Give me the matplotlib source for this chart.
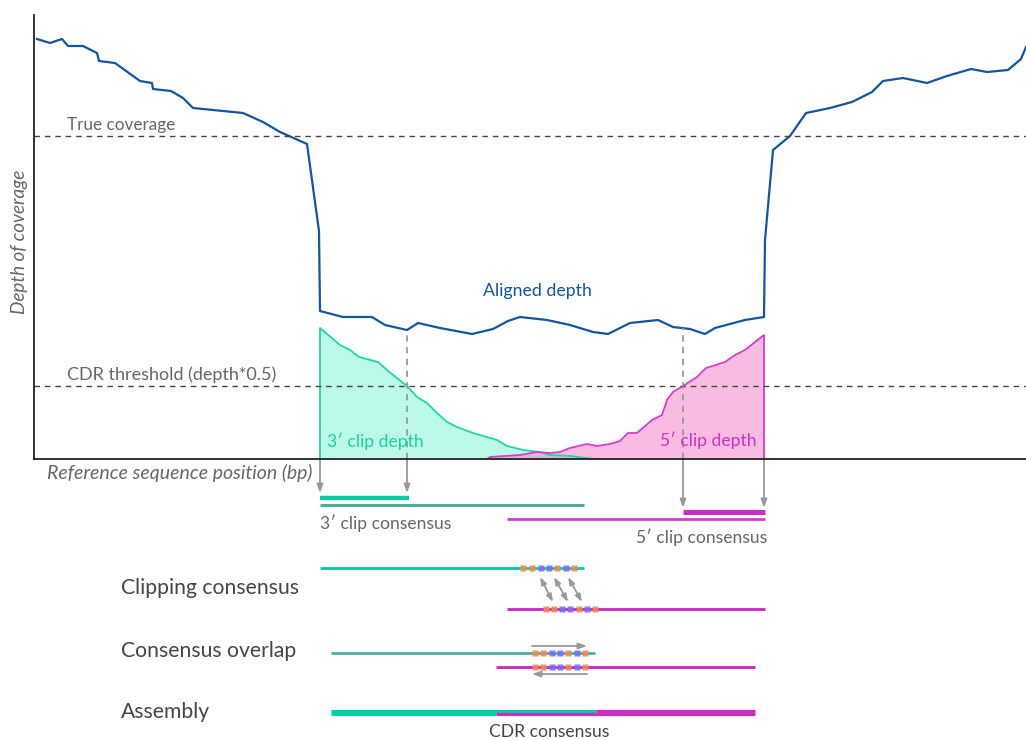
import numpy as np
import matplotlib
matplotlib.use('Agg')
import matplotlib.pyplot as plt

plt.rcParams['font.family'] = ['Lato', 'DejaVu Sans']

# Aligned depth along the reference (bp, depth)
aligned_pos = [2, 15, 27, 33, 48, 62, 64, 80, 105, 117, 118, 136, 148, 158, 208, 228, 245, 272,
               284, 285, 308, 337, 350, 372, 383, 405, 437, 458, 473, 485, 512, 535, 558, 573,
               595, 623, 638, 655, 670, 680, 710, 729, 730, 738, 755, 771, 795, 817, 837, 848,
               868, 892, 912, 936, 952, 973, 986, 991]
aligned_depth = [420, 416, 420, 413, 413, 406, 398, 396, 378, 376, 370, 368, 361, 351, 346, 337, 327, 315,
                 228, 148, 142, 142, 134, 129, 136, 131, 125, 130, 138, 142, 139, 134, 127, 125,
                 136, 139, 132, 130, 125, 131, 139, 142, 219, 309, 323, 346, 351, 357, 367, 378,
                 381, 376, 383, 390, 387, 389, 400, 412]

# 3' soft-clip depth
clip3_pos = [285, 285, 305, 315, 324, 343, 352, 362, 372, 382, 392, 402, 412, 422, 438, 462, 467,
             472, 488, 505, 515, 535, 558]
clip3_depth = [0, 131, 114, 109, 102, 97, 89, 81, 73, 62, 56, 46, 37, 32, 26, 19, 16,
               13, 9, 7, 4, 3, 0]

# 5' soft-clip depth
clip5_pos = [452, 455, 485, 502, 515, 525, 535, 552, 562, 575, 585, 593, 602, 617, 627, 632, 638,
             648, 662, 671, 690, 700, 710, 729, 729]
clip5_depth = [0, 2, 4, 7, 6, 7, 11, 15, 13, 15, 18, 26, 26, 39, 44, 59, 67,
               73, 82, 91, 97, 104, 109, 124, 0]

true_coverage = 323
cdr_threshold = 73
cdr_3_start, cdr_3_end = 285, 372
cdr_5_start, cdr_5_end = 648, 729

# consensus sequences (bp start, bp end)
cons3 = (285, 549)
cons5 = (472, 730)
cons3_ov = (296, 560)
cons5_ov = (461, 720)
assembly_join = 561

# sequence kmers shown on the consensus ends
kmer_colors = ['o', 'o', 'b', 'b', 'o', 'b', 'o']
kmer3_clip = [488, 497, 506, 514, 522, 531, 539]
kmer5_clip = [511, 519, 527, 535, 544, 552, 560]
kmer_overlap = [500, 508, 517, 525, 533, 542, 550]
match_from = [505, 519, 533]
match_to = [518, 533, 547]

TEAL = '#1ed6a8'
TEAL_D = '#4aae9a'
TEAL_B = '#00cda3'
MAG = '#cc2bc4'
BLUE = '#14559b'
GREY = '#999999'
TXT = '#666666'
DARK = '#454545'
sq_col = {'o': '#ef8a55', 'b': '#7b6ff0'}

W, H = 1026, 740
fig = plt.figure(figsize=(W / 100, H / 100), dpi=100)

# ---- coverage plot
ax = fig.add_axes([34 / W, 1 - 459 / H, 992 / W, 444 / H])
ax.set_xlim(-1, 991)
ax.set_ylim(0, 444)
for s in ['top', 'right']:
    ax.spines[s].set_visible(False)
for s in ['left', 'bottom']:
    ax.spines[s].set_linewidth(1.3)
    ax.spines[s].set_color('#222222')
ax.set_xticks([])
ax.set_yticks([])

ax.fill_between(clip3_pos, clip3_depth, color='#7ff5d6', alpha=0.52, lw=0)
ax.fill_between(clip5_pos, clip5_depth, color='#f27fc4', alpha=0.52, lw=0)
ax.plot(clip3_pos, clip3_depth, color=TEAL, lw=1.3)
ax.plot(clip5_pos, clip5_depth, color='#d63ccb', lw=1.3)
ax.plot(aligned_pos, aligned_depth, color=BLUE, lw=1.6)

ax.axhline(true_coverage, color='#444444', lw=1.0, ls=(0, (4, 3.5)))
ax.axhline(cdr_threshold, color='#444444', lw=1.0, ls=(0, (4, 3.5)))
ax.plot([cdr_3_end, cdr_3_end], [0, 129], color=GREY, lw=1.3, ls=(0, (3.5, 3)))
ax.plot([cdr_5_start, cdr_5_start], [0, 131], color=GREY, lw=1.3, ls=(0, (3.5, 3)))

ax.text(32, 334, 'True coverage', color=TXT, fontsize=12.3, va='center')
ax.text(32, 84, 'CDR threshold (depth*0.5)', color=TXT, fontsize=13, va='center')
ax.text(502, 168, 'Aligned depth', color=BLUE, fontsize=12.8, ha='center', va='center')
ax.text(292, 18, '3\u2032 clip depth', color='#1ccf9f', fontsize=12.6, va='center')
ax.text(722, 19, '5\u2032 clip depth', color='#d030c4', fontsize=12.6, ha='right', va='center')

fig.text(20 / W, 1 - 242 / H, 'Depth of coverage', rotation=90, style='italic',
         color=TXT, fontsize=13.6, ha='center', va='center')

# ---- schematic below
bx = fig.add_axes([34 / W, 0, 992 / W, 281 / H], zorder=-1)
bx.set_xlim(-1, 991)
bx.set_ylim(281, 0)
bx.axis('off')

bx.text(12, 14, 'Reference sequence position (bp)', style='italic', color=TXT,
        fontsize=14, va='center')

arrow_kw = dict(arrowstyle='-|>,head_length=0.5,head_width=0.18', color=GREY, lw=1.3,
                shrinkA=0, shrinkB=0)
for xp in [cdr_3_start, cdr_3_end]:
    bx.annotate('', xy=(xp, 34), xytext=(xp, 0), arrowprops=arrow_kw)
for xp in [cdr_5_start, cdr_5_end]:
    bx.annotate('', xy=(xp, 49), xytext=(xp, 0), arrowprops=arrow_kw)

bx.plot([cdr_3_start, cdr_3_end + 2], [39, 39], color=TEAL_B, lw=3.2, solid_capstyle='butt')
bx.plot(cons3, [46, 46], color=TEAL_D, lw=2.2, solid_capstyle='butt')
bx.plot([cdr_5_start, cdr_5_end + 1], [53, 53], color=MAG, lw=3.6, solid_capstyle='butt')
bx.plot(cons5, [60, 60], color='#d040c8', lw=2.0, solid_capstyle='butt')
bx.text(cons3[0], 64, '3\u2032 clip consensus', color=TXT, fontsize=12.6, va='center')
bx.text(cons5[1] + 2, 78, '5\u2032 clip consensus', color=TXT, fontsize=12.6, ha='right', va='center')

# clipping consensus
bx.text(86, 129, 'Clipping consensus', color=DARK, fontsize=15.2, va='center')
bx.plot(cons3, [109, 109], color=TEAL_B, lw=2.0, solid_capstyle='butt')
bx.plot(cons5, [150, 150], color='#c824c4', lw=2.0, solid_capstyle='butt')
for xp, c in zip(kmer3_clip, kmer_colors):
    bx.plot(xp, 109, 's', ms=4, color=sq_col[c], mec='none', alpha=0.9)
for xp, c in zip(kmer5_clip, kmer_colors):
    bx.plot(xp, 150, 's', ms=4, color=sq_col[c], mec='none', alpha=0.9)
dbl_kw = dict(arrowstyle='<|-|>,head_length=0.45,head_width=0.16', color=GREY, lw=1.3,
              shrinkA=0, shrinkB=0)
for x0, x1 in zip(match_from, match_to):
    bx.annotate('', xy=(x1, 143), xytext=(x0, 118), arrowprops=dbl_kw)

# consensus overlap
bx.text(86, 192, 'Consensus overlap', color=DARK, fontsize=15.2, va='center')
bx.plot(cons3_ov, [194, 194], color=TEAL_D, lw=2.0, solid_capstyle='butt')
bx.plot(cons5_ov, [208, 208], color='#c824c4', lw=2.0, solid_capstyle='butt')
for xp, c in zip(kmer_overlap, kmer_colors):
    bx.plot(xp, 194, 's', ms=4, color=sq_col[c], mec='none', alpha=0.9)
    bx.plot(xp, 208, 's', ms=4, color=sq_col[c], mec='none', alpha=0.9)
bx.annotate('', xy=(552, 187), xytext=(497, 187), arrowprops=arrow_kw)
bx.annotate('', xy=(497, 215), xytext=(552, 215), arrowprops=arrow_kw)

# assembly
bx.text(86, 253, 'Assembly', color=DARK, fontsize=15.2, va='center')
bx.plot([cons3_ov[0], assembly_join], [251.5, 251.5], color=TEAL_B, lw=2.3, solid_capstyle='butt')
bx.plot([assembly_join, cons5_ov[1]], [251.5, 251.5], color=MAG, lw=2.3, solid_capstyle='butt')
bx.plot([cons3_ov[0], cons5_ov[0]], [254.5, 254.5], color=TEAL_B, lw=2.3, solid_capstyle='butt')
bx.plot([cons5_ov[0], cons5_ov[1]], [254.5, 254.5], color=MAG, lw=2.3, solid_capstyle='butt')
bx.text(514, 273, 'CDR consensus', color=DARK, fontsize=12.6, ha='center', va='center')

fig.savefig('out.png', dpi=100)
